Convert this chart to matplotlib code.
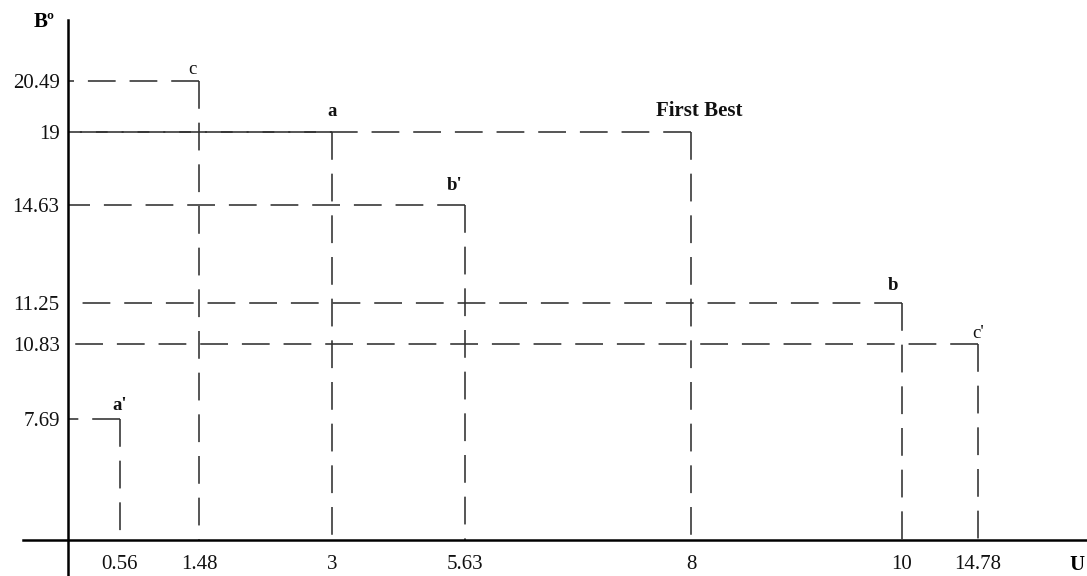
import numpy as np
import matplotlib.pyplot as plt

plt.rcParams['font.family'] = ['Liberation Serif', 'DejaVu Serif']
plt.rcParams['lines.scale_dashes'] = False

# the points (U, Bº)
names = ["a'", "c", "a", "b'", "First Best", "b", "c'"]
u_vals = [0.56, 1.48, 3, 5.63, 8, 10, 14.78]
b_vals = [7.69, 20.49, 19, 14.63, 19, 11.25, 10.83]
bold = [True, False, True, True, True, True, False]

x_ticks = [0.56, 1.48, 3, 5.63, 8, 10, 14.78]
x_labels = ['0.56', '1.48', '3', '5.63', '8', '10', '14.78']
y_ticks = [7.69, 10.83, 11.25, 14.63, 19, 20.49]
y_labels = ['7.69', '10.83', '11.25', '14.63', '19', '20.49']

# the drawing is not to scale -> piecewise mapping value -> pixel
ux_knots = [-1.5, -1, 0, 0.56, 1.48, 3, 5.63, 8, 10, 14.78, 17]
ux_pix = [0, 23, 68, 120, 199, 332, 465, 691, 902, 978, 1087]
by_knots = [-1, 0, 7.69, 10.83, 11.25, 14.63, 19, 20.49, 22.4, 23]
by_pix = [0, 36, 157, 232, 273, 371, 444, 495, 556, 576]

# label offsets in pixels from the corner
offsets = [(0, 14), (-7, 11), (0, 20), (-10, 20), (8, 21), (-9, 18), (0, 11)]

fig = plt.figure(figsize=(10.87, 5.76), dpi=100)
ax = fig.add_axes([0, 0, 1, 1])

ax.set_xscale('function', functions=(lambda v: np.interp(v, ux_knots, ux_pix),
                                     lambda p: np.interp(p, ux_pix, ux_knots)))
ax.set_yscale('function', functions=(lambda v: np.interp(v, by_knots, by_pix),
                                     lambda p: np.interp(p, by_pix, by_knots)))
ax.set_xlim(ux_knots[0], ux_knots[-1])
ax.set_ylim(by_knots[0], by_knots[-1])

for u, b in zip(u_vals, b_vals):
    ax.plot([u, 0], [b, b], color='#303030', lw=1.15, dashes=(20, 10))
    ax.plot([u, u], [b, 0], color='#303030', lw=1.15, dashes=(20, 10))

for name, u, b, off, bw in zip(names, u_vals, b_vals, offsets, bold):
    ax.annotate(name, (u, b), xytext=off, textcoords='offset pixels',
                ha='center', va='center', fontsize=15 if name == 'First Best' else 13.5,
                fontweight='bold' if bw else 'normal', color='#111111')

for side in ['top', 'right']:
    ax.spines[side].set_visible(False)
ax.spines['left'].set_position(('data', 0))
ax.spines['bottom'].set_position(('data', 0))
ax.spines['left'].set_bounds(-1, 22.4)
ax.spines['bottom'].set_bounds(-1, 17)
ax.spines['left'].set_linewidth(1.8)
ax.spines['bottom'].set_linewidth(1.8)

ax.set_xticks(x_ticks, x_labels)
ax.set_yticks(y_ticks, y_labels)
ax.minorticks_off()
ax.tick_params(axis='x', length=0, pad=11, labelsize=15, labelcolor='#111111')
ax.tick_params(axis='y', length=0, pad=6, labelsize=15, labelcolor='#111111')

ax.annotate('Bº', (34, 549), xycoords='figure pixels', ha='left', va='baseline',
            fontsize=15, fontweight='bold')
ax.annotate('U', (1085, 6), xycoords='figure pixels', ha='right', va='baseline',
            fontsize=15, fontweight='bold')

fig.savefig('out.png', dpi=100, facecolor='white')
